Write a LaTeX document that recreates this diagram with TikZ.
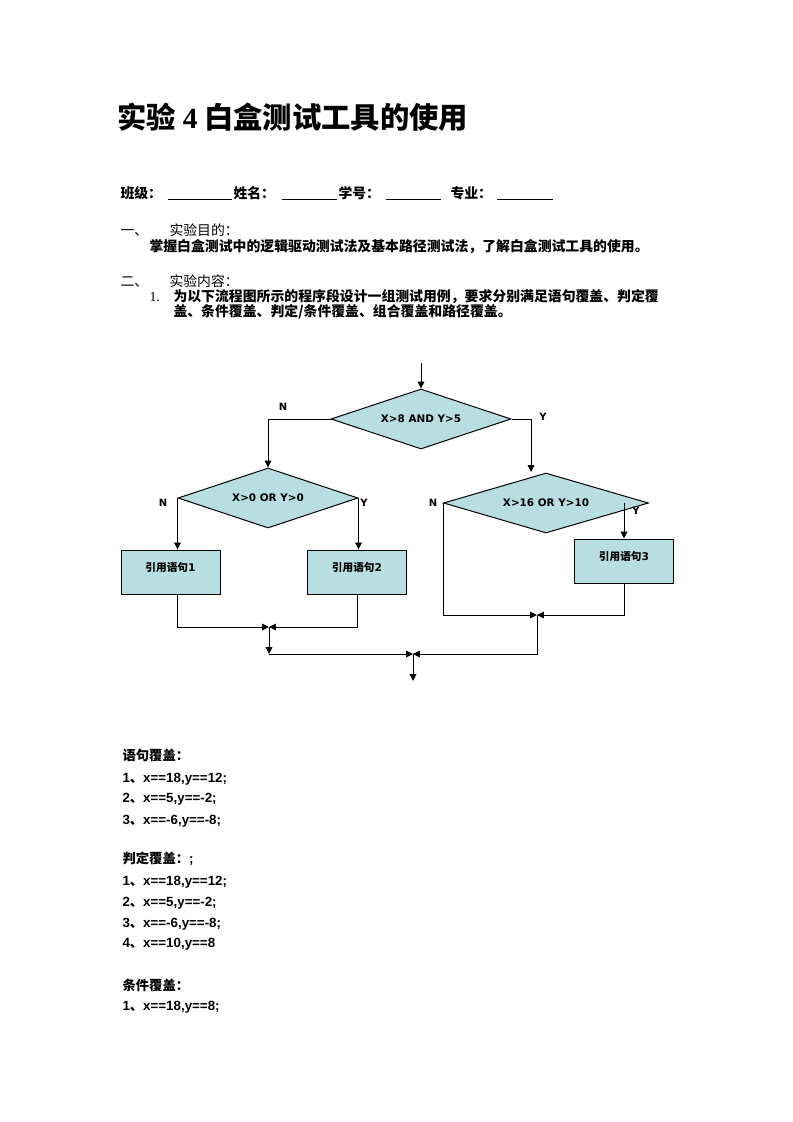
\documentclass[tikz,border=0pt]{standalone}
\usepackage{fontspec}
\setmainfont{Liberation Sans}
\newfontfamily\zh{Noto Sans CJK SC}
\newfontfamily\vd{DejaVu Sans}
\newfontfamily\tm{Liberation Serif}
\usetikzlibrary{shapes.geometric,arrows.meta}
\definecolor{boxfill}{RGB}{184,222,226}

\begin{document}
\begin{tikzpicture}[x=0.75pt, y=-0.75pt, line width=0.75pt, >={Triangle[length=5.2pt,width=5pt]},
    decision/.style={diamond, draw, fill=boxfill, inner sep=0pt, aspect=3, minimum height=45pt, font=\vd\bfseries\fontsize{7.8}{9}\selectfont},
    stmt/.style={rectangle, draw, fill=boxfill, minimum width=74.25pt, minimum height=33pt, inner sep=0pt, text height=7pt, text depth=8.5pt, font=\zh\bfseries\fontsize{8}{9}\selectfont},
    yn/.style={inner sep=0pt, font=\vd\bfseries\fontsize{7.5}{9}\selectfont},
    txt/.style={anchor=base west, inner sep=0pt, font=\zh\fontsize{10.4}{12}\selectfont},
    hdr/.style={txt, font=\zh\bfseries\fontsize{10.4}{12}\selectfont},
    case/.style={anchor=base west, inner sep=0pt, font=\bfseries\fontsize{10}{12}\selectfont}]
    \fill[white] (0,0) rectangle (793,1122);
    % heading
    \node[anchor=base west, inner sep=0pt, font=\zh\bfseries\fontsize{22}{26}\selectfont] (title) at (117,128) {实验 {\tm 4} 白盒测试工具的使用};
    \node[hdr] (cls) at (120,198) {班级：};
    \node[hdr] (name) at (233,198) {姓名：};
    \node[hdr] (num) at (338,198) {学号：};
    \node[hdr] (major) at (450,198) {专业：};
    \draw[line width=0.6pt] (168,199) -- (232,199) (282,199) -- (337,199) (386,199) -- (441,199) (497,199) -- (553,199);
    \node[txt] (s1no) at (120,235) {一、};
    \node[txt] (s1) at (169,235) {实验目的：};
    \node[hdr] (aim) at (149,251) {掌握白盒测试中的逻辑驱动测试法及基本路径测试法，了解白盒测试工具的使用。};
    \node[txt] (s2no) at (120,286) {二、};
    \node[txt] (s2) at (169,286) {实验内容：};
    \node[txt, font=\tm\fontsize{10.4}{12}\selectfont] (t1no) at (149,301) {1.};
    \node[hdr] (t1a) at (173,301) {为以下流程图所示的程序段设计一组测试用例，要求分别满足语句覆盖、判定覆};
    \node[hdr] (t1b) at (173,316) {盖、条件覆盖、判定/条件覆盖、组合覆盖和路径覆盖。};
    % flow chart
    \coordinate (start) at (421,363);
    \node[decision, minimum width=135pt] (d1) at (421,419) {X>8 AND Y>5};
    \node[decision, minimum width=135pt] (d2) at (268,498) {X>0 OR Y>0};
    \node[decision, minimum width=153.75pt] (d3) at (546,503) {X>16 OR Y>10};
    \node[stmt] (b1) at (170.5,572) {引用语句{\vd 1}};
    \node[stmt] (b2) at (357,572) {引用语句{\vd 2}};
    \node[stmt] (b3) at (624,561) {引用语句{\vd 3}};
    \coordinate (d3in) at (531,472);
    \coordinate (j1) at (269,627);
    \coordinate (j1b) at (269,654);
    \coordinate (j2) at (537,615);
    \coordinate (j3) at (413,654);
    \coordinate (stop) at (413,681);
    \node[yn] (n1) at (283,407) {N};
    \node[yn] (y1) at (543,417) {Y};
    \node[yn] (n2) at (163,503) {N};
    \node[yn] (y2) at (364,503) {Y};
    \node[yn] (n3) at (433,503) {N};
    \node[yn] (y3) at (636,511) {Y};
    \draw[->] (start) -- (d1.north);
    \draw[->] (d1.west) -| (d2.north);
    \draw[->] (d1.east) -| (d3in);
    \draw[->] (d2.west) -- (d2.west |- b1.north);
    \draw[->] (d2.east) -- (d2.east |- b2.north);
    \draw[->] (d3.east -| b3.north) -- (b3.north);
    \draw[->] (d3.west) |- (j2);
    \draw[->] (b3.south) |- (j2);
    \draw[->] (d2.west |- b1.south) |- (j1);
    \draw[->] (b2.south) |- (j1);
    \draw[->] (j1) -- (j1b);
    \draw[->] (j1b) -- (j3);
    \draw[->] (j2) |- (j3);
    \draw[->] (j3) -- (stop);
    % test cases
    \node[case] (c1) at (122,760) {\zh 语句覆盖：};
    \node[case] (c1a) at (122,782) {1{\zh 、}x==18,y==12;};
    \node[case] (c1b) at (122,802) {2{\zh 、}x==5,y==-2;};
    \node[case] (c1c) at (122,824) {3{\zh 、}x==-6,y==-8;};
    \node[case] (c2) at (122,863) {{\zh 判定覆盖：};};
    \node[case] (c2a) at (122,885) {1{\zh 、}x==18,y==12;};
    \node[case] (c2b) at (122,906) {2{\zh 、}x==5,y==-2;};
    \node[case] (c2c) at (122,927) {3{\zh 、}x==-6,y==-8;};
    \node[case] (c2d) at (122,947) {4{\zh 、}x==10,y==8};
    \node[case] (c3) at (122,990) {\zh 条件覆盖：};
    \node[case] (c3a) at (122,1010) {1{\zh 、}x==18,y==8;};
\end{tikzpicture}
\end{document}
